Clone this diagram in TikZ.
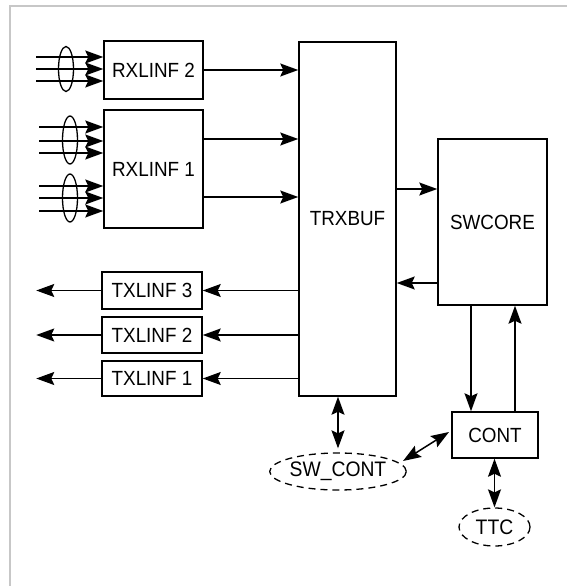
\documentclass[tikz,border=0pt]{standalone}
\usepackage{fontspec}
\setmainfont{Liberation Sans}
\newfontfamily\labfont[FakeStretch=0.92]{Liberation Sans}
\usetikzlibrary{arrows.meta,shapes.geometric}
\begin{document}
\begin{tikzpicture}[x=1pt,y=-1pt,
  >={Stealth[length=18pt,width=13pt,inset=3pt]},
  box/.style={draw,line width=1.5pt,inner sep=0pt,font=\labfont\fontsize{20.5}{21}\selectfont},
  cloud/.style={draw,ellipse,dash pattern=on 7pt off 5pt,line width=1.3pt,inner sep=0pt,font=\labfont\fontsize{21}{22}\selectfont},
  conn/.style={line width=1.5pt,->},
  biconn/.style={line width=1.5pt,<->},
  bundle/.style={line width=1.3pt},
  frame/.style={draw=black!22,line width=2pt}]
\useasboundingbox (0,0) rectangle (567,586);
\draw[frame] (9.5,586) -- (9.5,6) -- (567,6);

% blocks
\node[box,minimum width=99pt,minimum height=58pt] (rx2) at (153.5,70) {RXLINF 2};
\node[box,minimum width=99pt,minimum height=118pt] (rx1) at (153.5,169) {RXLINF 1};
\node[box,minimum width=97pt,minimum height=354pt] (trx) at (347.5,219) {TRXBUF};
\node[box,minimum width=109pt,minimum height=166pt] (sw) at (492.5,222) {SWCORE};
\node[box,minimum width=100pt,minimum height=37pt] (tx3) at (152,290.5) {TXLINF 3};
\node[box,minimum width=100pt,minimum height=36pt] (tx2) at (152,335) {TXLINF 2};
\node[box,minimum width=100pt,minimum height=35pt] (tx1) at (152,378.5) {TXLINF 1};
\node[box,minimum width=86pt,minimum height=46pt] (cont) at (495,435) {CONT};
\node[cloud,minimum width=130pt,minimum height=37pt] (swc) at (338,471.5) {SW\_CONT};
\node[cloud,minimum width=71pt,minimum height=38pt] (ttc) at (494.5,527) {TTC};

% input bundles
\foreach \y in {57,69,81} {
  \coordinate (ia\y) at (36,\y);
  \draw[conn] (ia\y) -- (ia\y -| rx2.west);
}
\draw[bundle] (66,69) ellipse [x radius=7.5, y radius=22.5];
\foreach \y in {127,141,153,186,198,211} {
  \coordinate (ib\y) at (39,\y);
  \draw[conn] (ib\y) -- (ib\y -| rx1.west);
}
\draw[bundle] (70,140) ellipse [x radius=7.5, y radius=24];
\draw[bundle] (70,198) ellipse [x radius=7.5, y radius=24];

% RX to TRXBUF
\draw[conn] (rx2.east) -- (rx2.east -| trx.west);
\coordinate (r1a) at (203,139);
\coordinate (r1b) at (203,197);
\draw[conn] (r1a) -- (r1a -| trx.west);
\draw[conn] (r1b) -- (r1b -| trx.west);

% TRXBUF <-> SWCORE
\coordinate (t1) at (396,189);
\draw[conn] (t1) -- (t1 -| sw.west);
\coordinate (s1) at (438,283);
\draw[conn] (s1) -- (s1 -| trx.east);

% TRXBUF to TX
\foreach \n in {tx3,tx2,tx1} {
  \draw[conn] (\n.east -| trx.west) -- (\n.east);
  \draw[conn] (\n.west) -- ++(-65,0);
}

% SWCORE <-> CONT
\coordinate (sc) at (471,305);
\draw[conn] (sc) -- (sc |- cont.north);
\coordinate (cs) at (515,412);
\draw[conn] (cs) -- (cs |- sw.south);

% control links
\draw[biconn,shorten >=4pt] (swc.north |- trx.south) -- (swc.north);
\coordinate (p1) at (403,461);
\coordinate (p2) at (449,432);
\draw[biconn] (p1) -- (p2);
\draw[biconn] (ttc.north |- cont.south) -- (ttc.north);
\end{tikzpicture}
\end{document}
